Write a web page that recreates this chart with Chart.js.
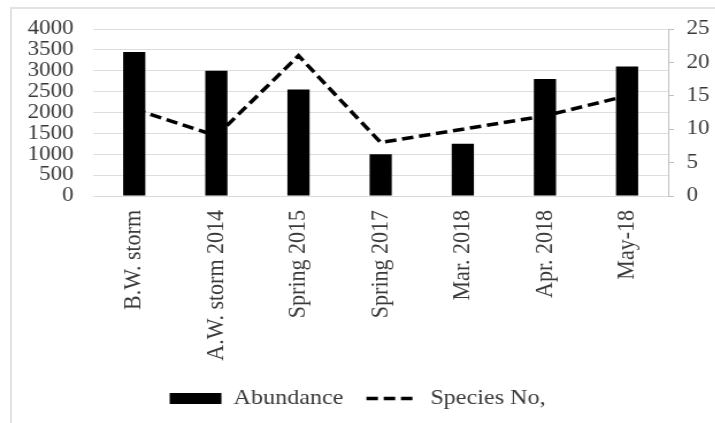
<!DOCTYPE html>
<html>
<head>
<meta charset="utf-8">
<script src="https://cdn.jsdelivr.net/npm/chart.js@4.4.0/dist/chart.umd.min.js"></script>
<style>
  body { margin: 0; background: #fff; }
  #wrap { position: relative; width: 715px; height: 423px; overflow: hidden; }
  #frame { position: absolute; left: 10px; top: 7px; width: 800px; height: 500px;
           border-top: 2px solid #e2e2e2; border-left: 2px solid #e2e2e2; }
  /* the reference picture is stretched sideways, so the chart is drawn narrower and widened */
  #chart { position: absolute; left: 0; top: 0; transform: scaleX(1.15); transform-origin: 0 0; }
</style>
</head>
<body>
<div id="wrap">
  <div id="frame"></div>
  <canvas id="chart" width="622" height="423"></canvas>
</div>
<script>
var categories = ['B.W. storm', 'A.W. storm 2014', 'Spring 2015', 'Spring 2017', 'Mar. 2018', 'Apr. 2018', 'May-18'];
var abundance = [3450, 3000, 2550, 1000, 1250, 2800, 3100];
var speciesNo = [13, 9, 21, 8, 10, 12, 15];

var leftMax = 4000, leftStep = 500;
var rightMax = 25, rightStep = 5;

var textColor = '#3a3a3a';
var serif = 'Liberation Serif';
var dash = [10, 5];

new Chart("chart", {
    type: "bar",
    data: {
        labels: categories,
        datasets: [
            {
                label: 'Abundance',
                data: abundance,
                backgroundColor: '#000',
                borderWidth: 0,
                barPercentage: 0.27,
                categoryPercentage: 1,
                pointStyle: 'rect',
                yAxisID: 'y'
            },
            {
                type: 'line',
                label: 'Species No,',
                data: speciesNo,
                borderColor: '#000',
                backgroundColor: '#000',
                borderWidth: 3.5,
                borderDash: dash,
                pointRadius: 0,
                pointStyle: 'line',
                tension: 0,
                yAxisID: 'y1'
            }
        ]
    },
    options: {
        responsive: false,
        animation: false,
        layout: { padding: { top: 29, bottom: 4, left: 0, right: 0 } },
        plugins: {
            tooltip: { enabled: false },
            legend: {
                position: 'bottom',
                labels: {
                    usePointStyle: true,
                    pointStyleWidth: 45,
                    boxHeight: 11,
                    padding: 20,
                    color: textColor,
                    font: { family: serif, size: 21 },
                    generateLabels: function (chart) {
                        var items = Chart.defaults.plugins.legend.labels.generateLabels(chart);
                        // the point style gives no dash, so copy it from the line
                        items[1].lineDash = dash;
                        items[1].lineWidth = 3.5;
                        items[1].strokeStyle = '#000';
                        return items;
                    }
                }
            }
        },
        scales: {
            x: {
                grid: { display: false, drawTicks: false },
                border: { display: true, color: '#d9d9d9' },
                ticks: {
                    autoSkip: false,
                    minRotation: 90,
                    maxRotation: 90,
                    padding: 14,
                    color: textColor,
                    font: { family: serif, size: 22 }
                },
                afterFit: function (scale) { scale.height = 172; }
            },
            y: {
                position: 'left',
                min: 0,
                max: leftMax,
                grid: { color: '#dedede', drawTicks: false },
                border: { display: false },
                ticks: {
                    stepSize: leftStep,
                    autoSkip: false,
                    padding: 17,
                    color: textColor,
                    font: { family: serif, size: 20 },
                    callback: function (v) { return String(v); }
                },
                afterFit: function (scale) { scale.width = 81; }
            },
            y1: {
                position: 'right',
                min: 0,
                max: rightMax,
                grid: { drawOnChartArea: false, color: '#bfbfbf', tickLength: 5 },
                border: { display: true, color: '#bfbfbf' },
                ticks: {
                    stepSize: rightStep,
                    autoSkip: false,
                    padding: 11,
                    color: textColor,
                    font: { family: serif, size: 20 }
                },
                afterFit: function (scale) { scale.width = 41; }
            }
        }
    }
});
</script>
</body>
</html>
